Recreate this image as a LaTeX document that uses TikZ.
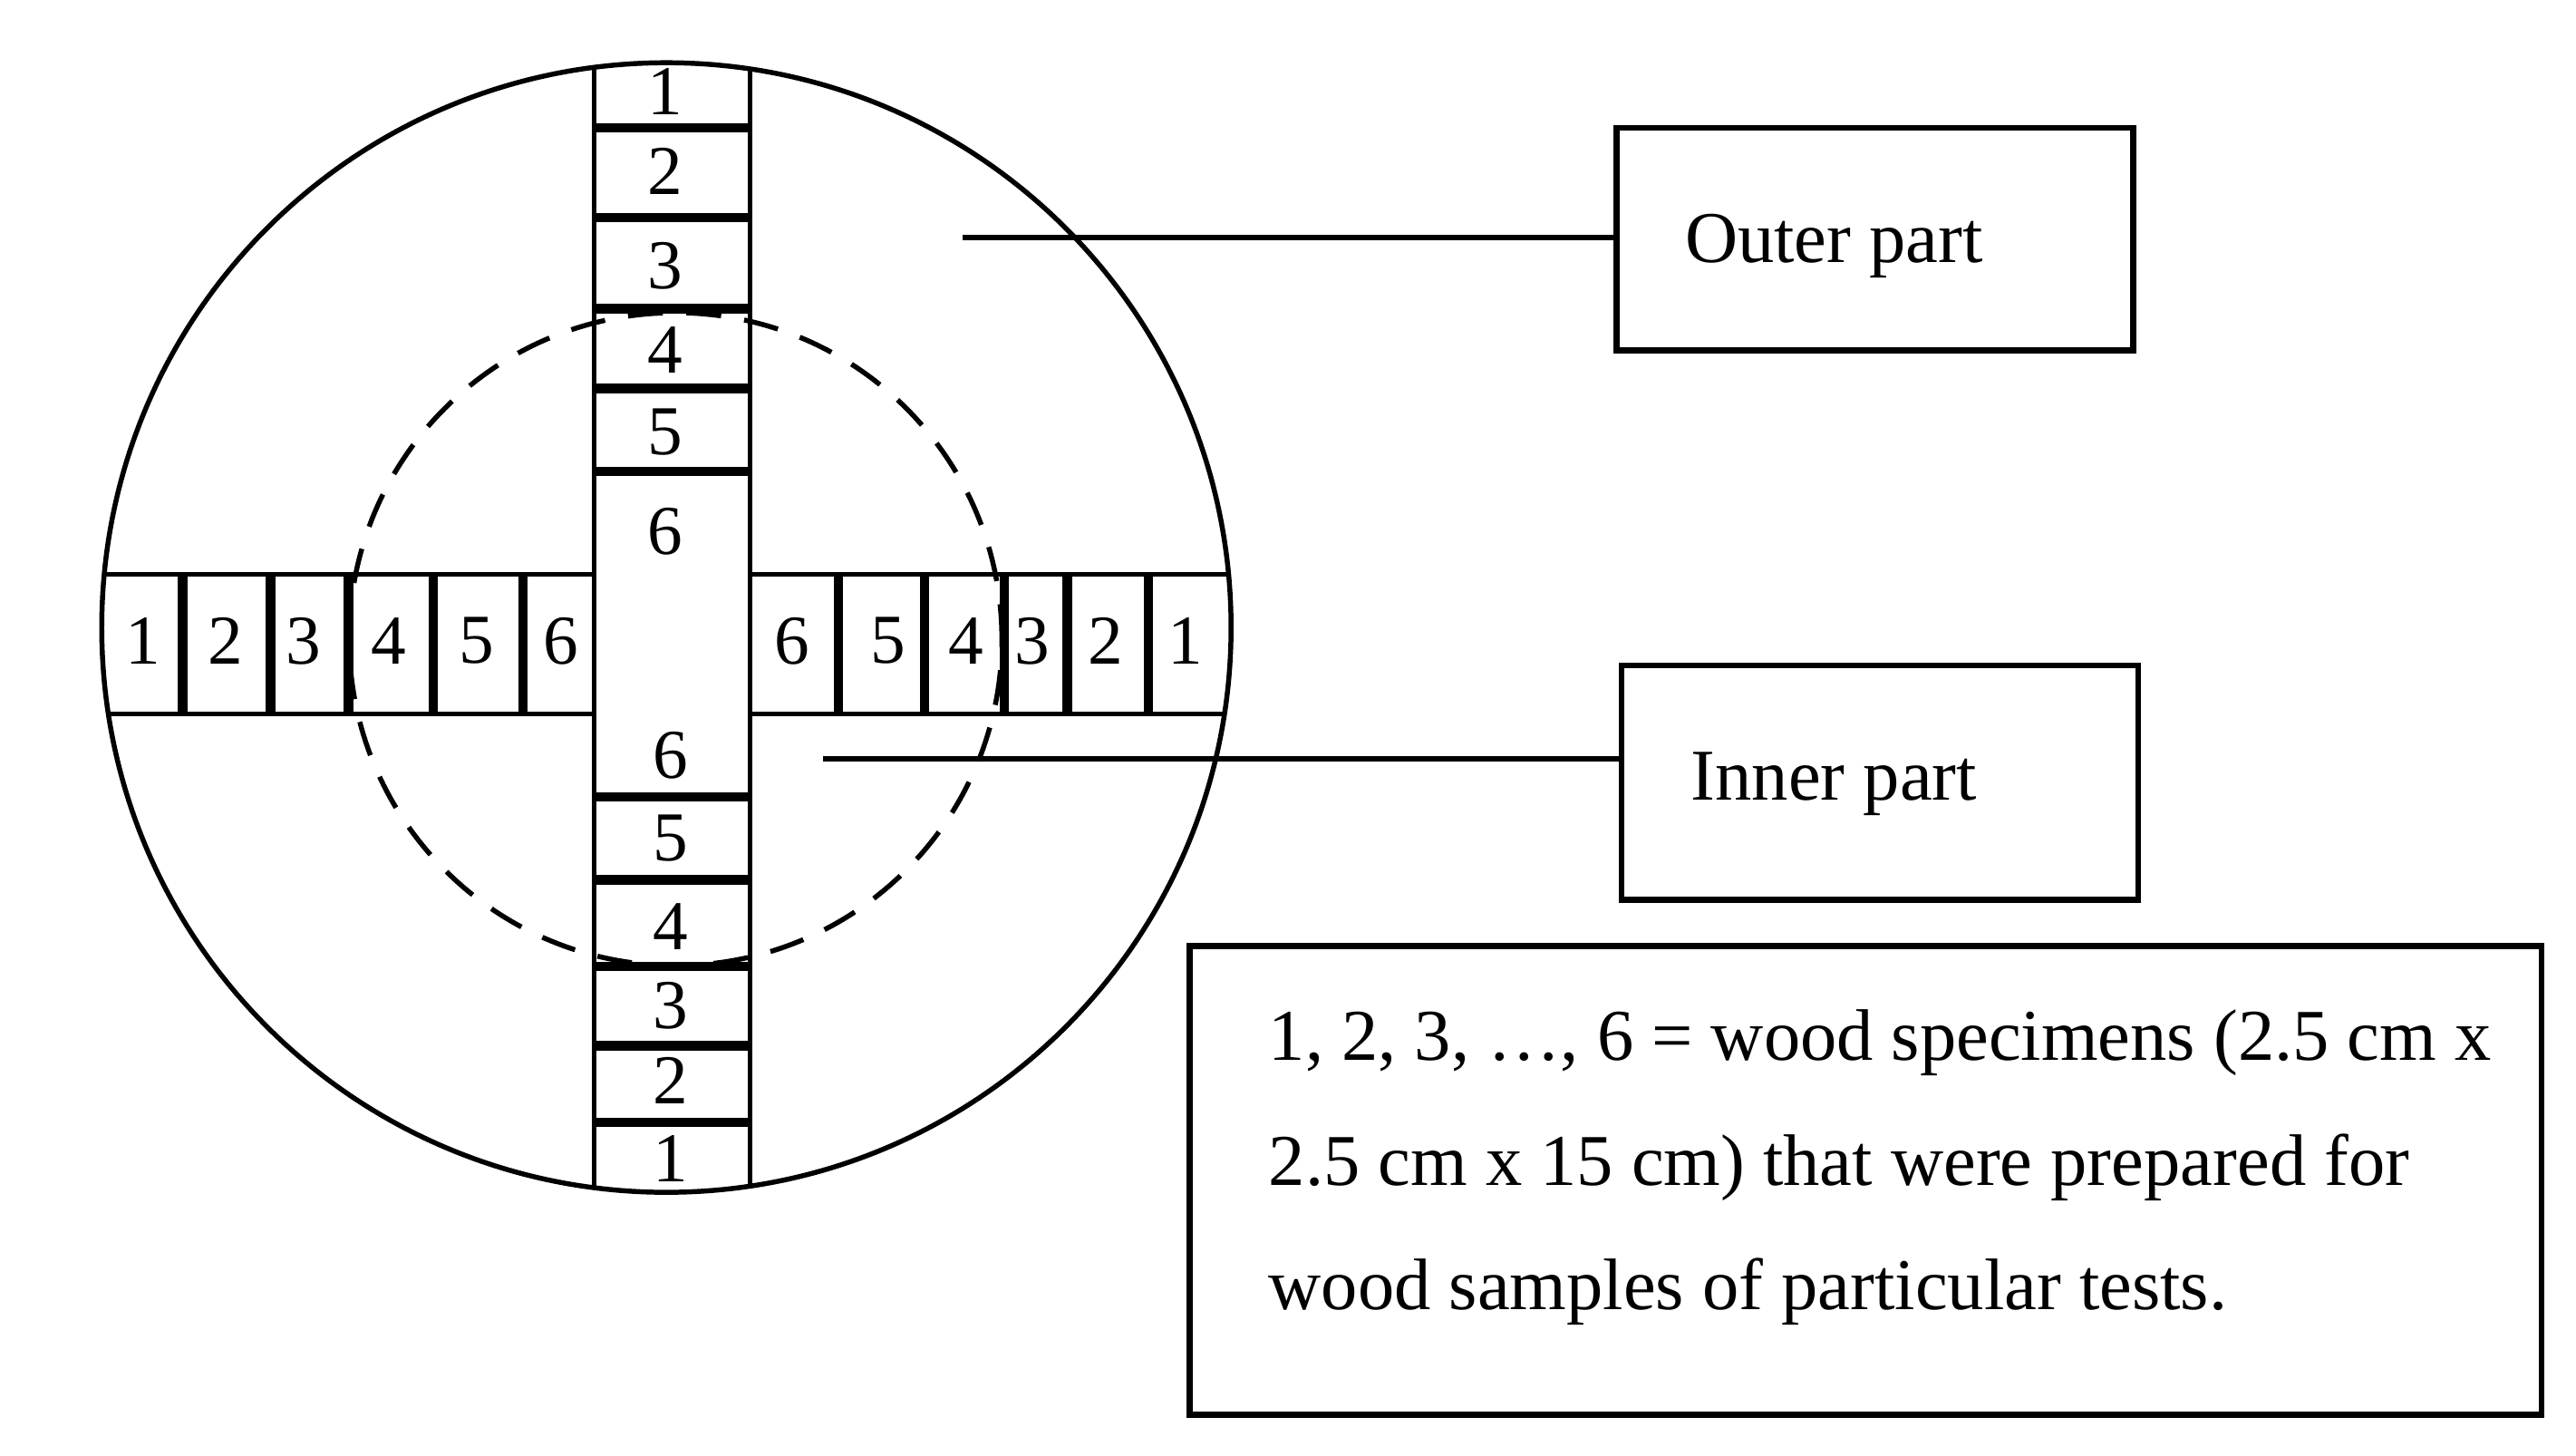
\documentclass[tikz,border=0pt]{standalone}
\usepackage{fontspec}
\setmainfont{Liberation Serif}
\begin{document}
\begin{tikzpicture}[x=0.01cm,y=-0.01cm,
  thin/.style={line width=0.85pt},
  sep/.style={line width=1.6pt},
  num/.style={font=\fontsize{12}{14}\selectfont,inner sep=0pt},
  lbl/.style={font=\fontsize{12.5}{15}\selectfont},
  box/.style={draw,line width=1pt}]
\useasboundingbox (0,0) rectangle (1552,877);
\node[circle,draw,thin,minimum size=6.8cm,inner sep=0] (outer) at (401.5,378) {};
\node[circle,draw,thin,dashed,dash pattern=on 6pt off 4pt,minimum size=3.93cm,inner sep=0] (inner) at (407,385) {};
\begin{scope}
\clip (401.5,378) circle (3.4cm);
\draw[thin] (358,0) -- (358,800) (452,0) -- (452,800);
\draw[thin] (0,346) -- (358,346) (0,430) -- (358,430) (452,346) -- (800,346) (452,430) -- (800,430);
\end{scope}
\foreach \y in {77,131,186,234,284,480,530,582,630,676} \draw[sep] (358,\y) -- (452,\y);
\foreach \x in {110,163,210,261,315,505,557,605,643,692} \draw[sep] (\x,346) -- (\x,430);
\foreach \n/\y [count=\i] in {1/55,2/103,3/160,4/211,5/260,6/320} \node[num] (t\i) at (401,\y) {\n};
\foreach \n/\y [count=\i] in {6/455,5/505,4/558,3/606,2/651,1/698} \node[num] (b\i) at (404,\y) {\n};
\foreach \n/\x [count=\i] in {1/86,2/136,3/183,4/234,5/287,6/338} \node[num] (l\i) at (\x,386) {\n};
\foreach \n/\x [count=\i] in {6/477,5/535,4/582,3/622,2/666,1/714} \node[num] (r\i) at (\x,386) {\n};
\node[box,minimum width=3.11cm,minimum height=1.34cm] (ob) at (1129.5,144) {};
\node[lbl] (ot) at (1105,148) {Outer part};
\node[box,minimum width=3.11cm,minimum height=1.41cm] (ib) at (1132.5,471.5) {};
\node[lbl] (it) at (1105,472) {Inner part};
\coordinate (op) at (580,143);
\coordinate (ip) at (496,457);
\draw[thin] (op) -- (ob.west|-op);
\draw[thin] (ip) -- (ib.west|-ip);
\node[box,minimum width=8.14cm,minimum height=2.82cm] (lg) at (1124,711) {};
\node[lbl,anchor=west] (l1) at (752,628) {1, 2, 3, \dots, 6 = wood specimens (2.5 cm x};
\node[lbl,anchor=west] (l2) at (752,703) {2.5 cm x 15 cm) that were prepared for};
\node[lbl,anchor=west] (l3) at (752,778) {wood samples of particular tests.};
\end{tikzpicture}
\end{document}
